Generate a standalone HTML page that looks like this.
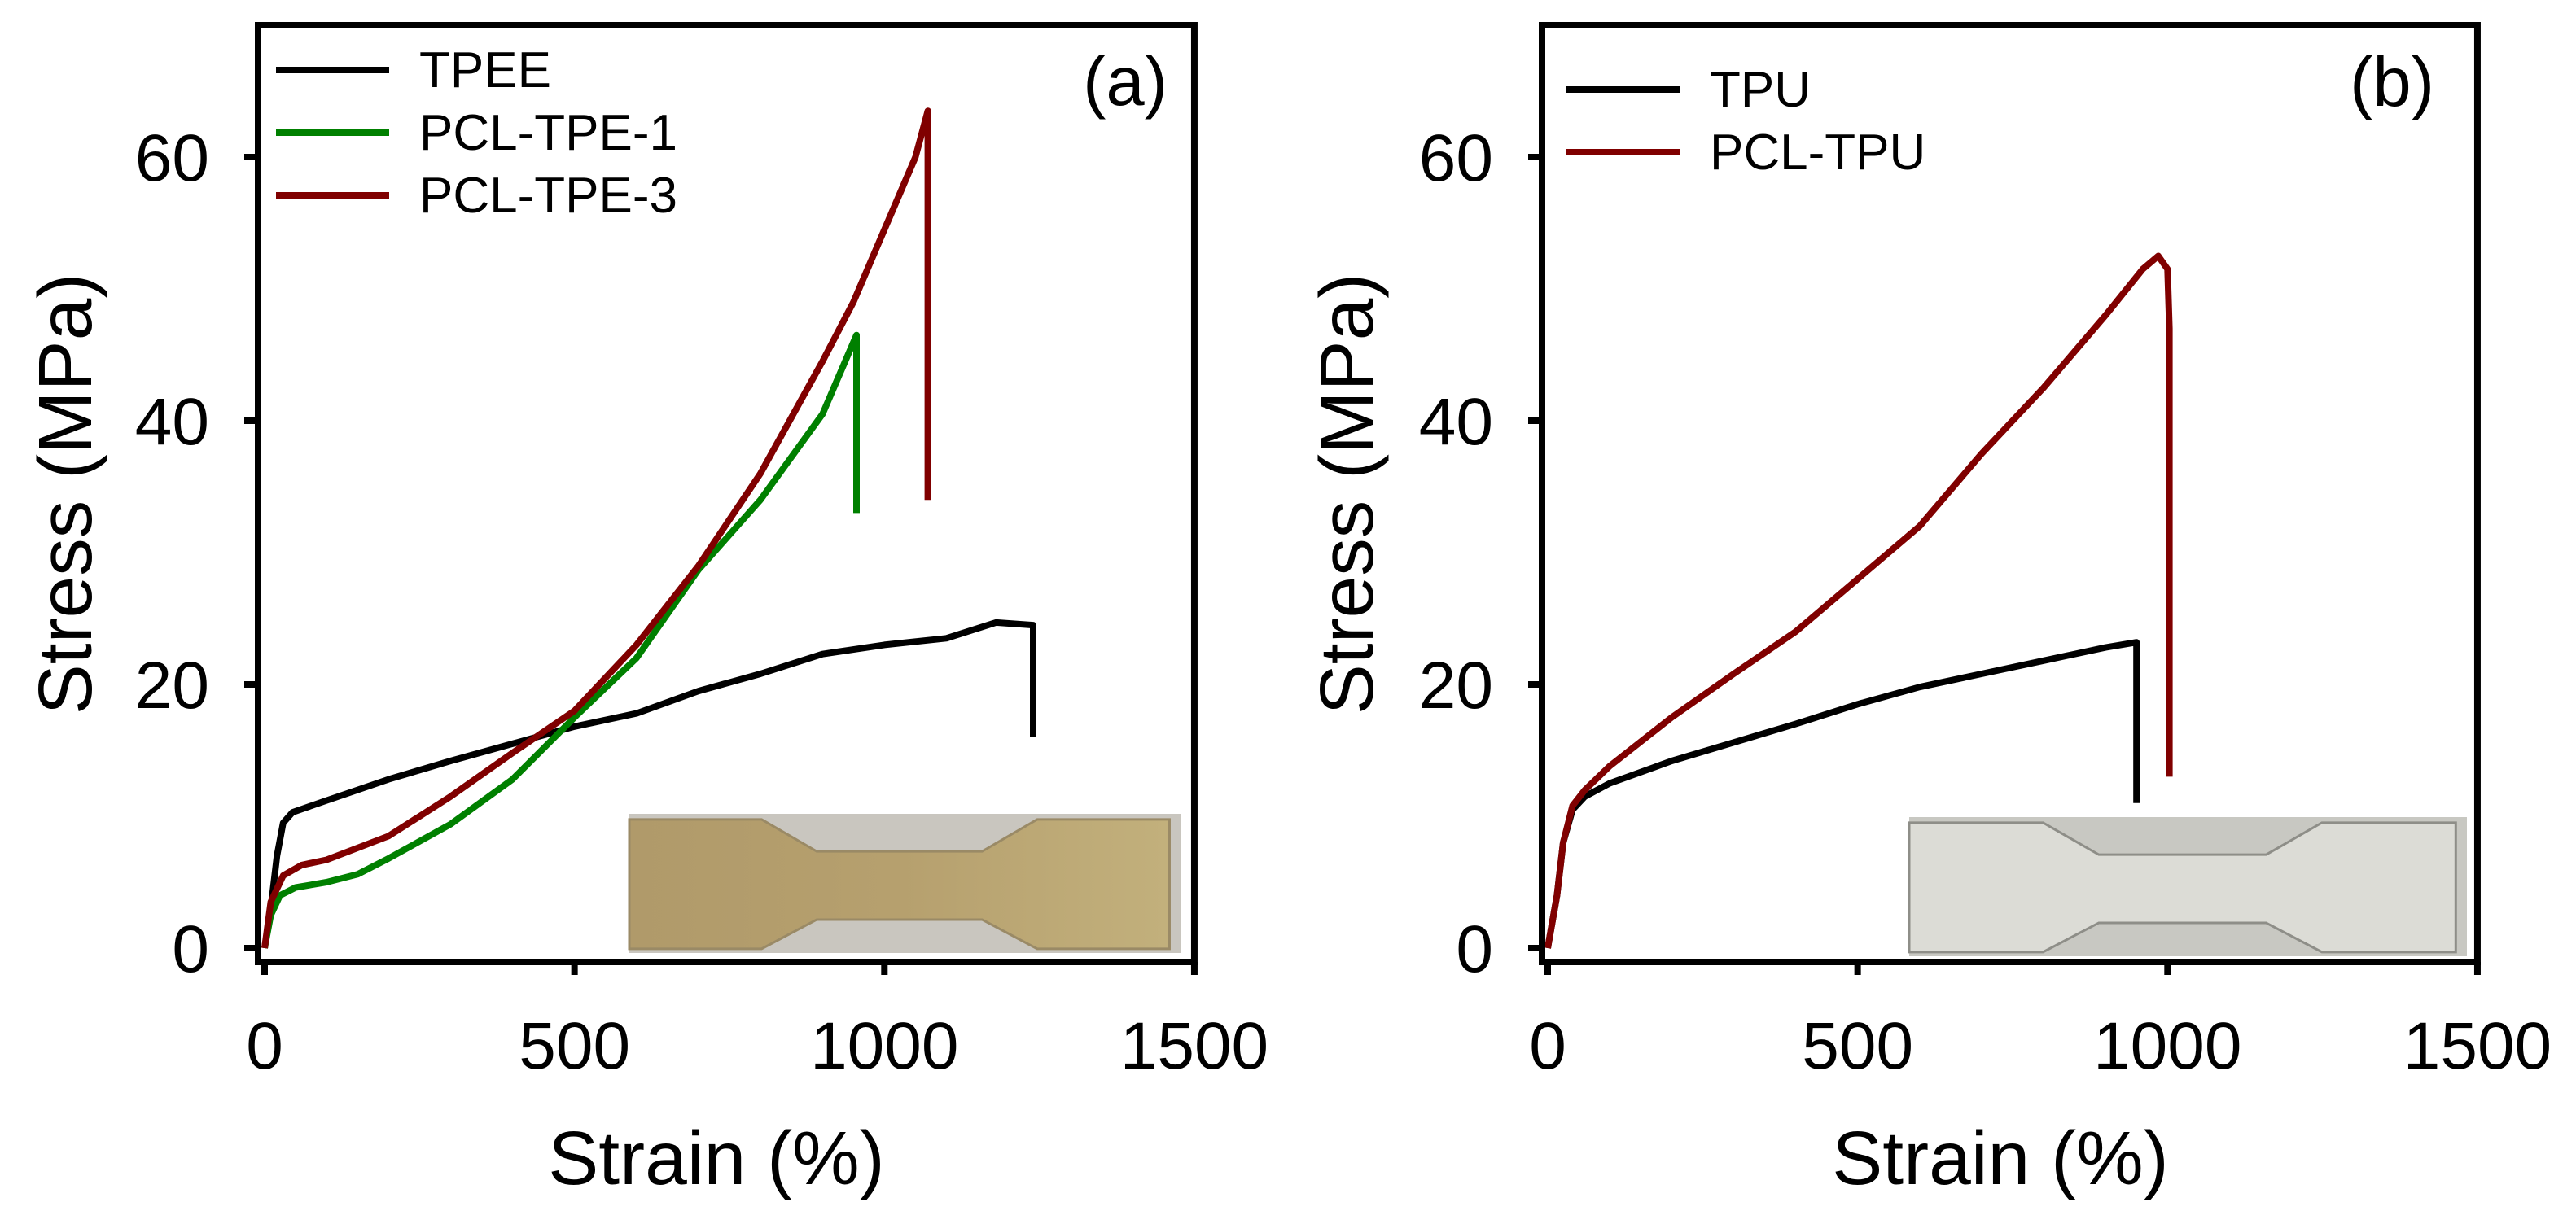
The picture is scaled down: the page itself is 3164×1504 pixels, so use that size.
<!DOCTYPE html>
<html><head><meta charset="utf-8"><style>
html,body{margin:0;padding:0;background:#fff}
svg{display:block}
text{font-family:"Liberation Sans",Arial,sans-serif;fill:#000}
</style></head><body>
<svg id="fig" width="3164" height="1504" viewBox="0 0 3164 1504" xmlns="http://www.w3.org/2000/svg">
  <defs>
    <linearGradient id="tan" x1="0" x2="1" y1="0" y2="0">
      <stop offset="0" stop-color="#b09a6a"/><stop offset="0.5" stop-color="#b6a06e"/><stop offset="1" stop-color="#c2b07c"/>
    </linearGradient>
  </defs>
  <g id="panelA"></g>
  <g id="panelB"></g>
</svg>
<script>
// ---- data ----
const xTicks = [0, 500, 1000, 1500];
const yTicks = [0, 20, 40, 60];
const tpeeStrain = [0,10,20,30,45,100,200,300,400,500,600,700,800,900,1000,1100,1180,1240,1240];
const tpeeStress = [0,3,7,9.5,10.3,11.2,12.8,14.2,15.5,16.8,17.8,19.5,20.8,22.3,23,23.5,24.7,24.5,16];
const tpe1Strain = [0,10,25,50,100,150,200,300,400,500,600,700,800,900,955,955];
const tpe1Stress = [0,2.5,4,4.6,5,5.6,6.8,9.4,12.8,17.5,22,28.7,34,40.5,46.5,33];
const tpe3Strain = [0,10,30,60,100,200,300,400,500,600,700,800,900,950,1000,1050,1070,1070];
const tpe3Stress = [0,3.5,5.5,6.3,6.7,8.5,11.5,14.8,18,23,29,36,44.5,49,54.5,60,63.5,34];
const tpuStrain = [0,15,25,40,60,100,200,300,400,500,600,700,800,900,950,950];
const tpuStress = [0,4,8,10.5,11.5,12.5,14.2,15.6,17,18.5,19.8,20.8,21.8,22.8,23.2,11];
const pcltpuStrain = [0,15,25,40,60,100,200,300,400,500,600,700,800,900,960,985,1000,1003,1003];
const pcltpuStress = [0,4,8,10.8,12,13.8,17.5,20.8,24,28,32,37.5,42.5,48,51.5,52.5,51.5,47,13];

const NS = "http://www.w3.org/2000/svg";
function mk(tag, attrs, parent){const e=document.createElementNS(NS,tag);for(const k in attrs)e.setAttribute(k,attrs[k]);parent.appendChild(e);return e;}

function panel(g, o){
  const xs = v => o.x0 + v*0.7613;
  const ys = v => 1165 - v*16.2;
  // inset photo
  const ins = mk('g',{},g);
  
  
  const ix=o.inset[0], iy=o.inset[1], iw=o.inset[2], ih=o.inset[3];
  mk('rect',{x:ix,y:iy,width:iw,height:ih,fill:o.bg},ins);
  const p = [[0,0.04],[0.24,0.04],[0.34,0.27],[0.64,0.27],[0.74,0.04],[0.98,0.04],[0.98,0.97],[0.74,0.97],[0.64,0.76],[0.34,0.76],[0.24,0.97],[0,0.97]];
  mk('polygon',{points:p.map(q=>(ix+q[0]*iw)+','+(iy+q[1]*ih)).join(' '),fill:o.body,stroke:o.edge,'stroke-width':3},ins);
  // curves
  o.series.forEach(s=>{
    const pts = s.x.map((v,i)=>xs(v).toFixed(1)+','+ys(s.y[i]).toFixed(1)).join(' ');
    const l = mk('polyline',{points:pts,fill:'none',stroke:s.c,'stroke-width':8,'stroke-linejoin':'round'},g);
    
    
  });
  // frame
  const fr = mk('rect',{x:o.fl,y:31,width:xs(1500)-o.fl,height:1151,fill:'none',stroke:'#000','stroke-width':8},g);
  
  
  // ticks
  xTicks.forEach(t=>{
    mk('line',{x1:xs(t),x2:xs(t),y1:1182,y2:1198,stroke:'#000','stroke-width':8},g);
    const tx = mk('text',{x:xs(t),y:1313,'font-size':82,'text-anchor':'middle'},g);
    tx.textContent=t;
    
    
  });
  yTicks.forEach(t=>{
    mk('line',{x1:o.fl-17,x2:o.fl,y1:ys(t),y2:ys(t),stroke:'#000','stroke-width':8},g);
    const tx = mk('text',{x:o.fl-60,y:ys(t)+29,'font-size':82,'text-anchor':'end'},g);
    tx.textContent=t;
    
    
  });
  // titles
  const xt = mk('text',{x:o.xtc,y:1455,'font-size':93,'text-anchor':'middle'},g);
  xt.textContent='Strain (%)';
  
  
  const yt = mk('text',{x:0,y:0,'font-size':93,'text-anchor':'middle',transform:'translate('+o.ytx+',607) rotate(-90)'},g);
  yt.textContent='Stress (MPa)';
  
  
  const pl = mk('text',{x:o.lab[0],y:o.lab[1],'font-size':85,'text-anchor':'end'},g);
  pl.textContent=o.label;
  
  
  // legend
  o.series.forEach((s,i)=>{
    const ly = o.leg[1] + i*o.leg[3];
    const le = mk('g',{},g);
    
    
    mk('line',{x1:o.leg[0],x2:o.leg[0]+139,y1:ly,y2:ly,stroke:s.c,'stroke-width':8},le);
    const t = mk('text',{x:o.leg[2],y:ly+21,'font-size':62},le);
    t.textContent=s.label;
  });
}

panel(document.getElementById('panelA'),{
  x0:325, fl:317, inset:[773,1000,677,171], bg:'#c9c6bf', body:'url(#tan)', edge:'#9a8a66',
  xtc:880, ytx:112, label:'(a)', lab:[1434,129], leg:[339,86,515,77],
  series:[
    {name:'tpee',label:'TPEE',c:'#000000',x:tpeeStrain,y:tpeeStress},
    {name:'pcl-tpe-1',label:'PCL-TPE-1',c:'#008000',x:tpe1Strain,y:tpe1Stress},
    {name:'pcl-tpe-3',label:'PCL-TPE-3',c:'#800000',x:tpe3Strain,y:tpe3Stress}
  ]
});
panel(document.getElementById('panelB'),{
  x0:1901, fl:1894, inset:[2345,1004,685,171], bg:'#c8c8c2', body:'#dcdcd6', edge:'#8e8e88',
  xtc:2457, ytx:1686, label:'(b)', lab:[2990,130], leg:[1924,110,2100,77],
  series:[
    {name:'tpu',label:'TPU',c:'#000000',x:tpuStrain,y:tpuStress},
    {name:'pcl-tpu',label:'PCL-TPU',c:'#800000',x:pcltpuStrain,y:pcltpuStress}
  ]
});
</script>
</body></html>
